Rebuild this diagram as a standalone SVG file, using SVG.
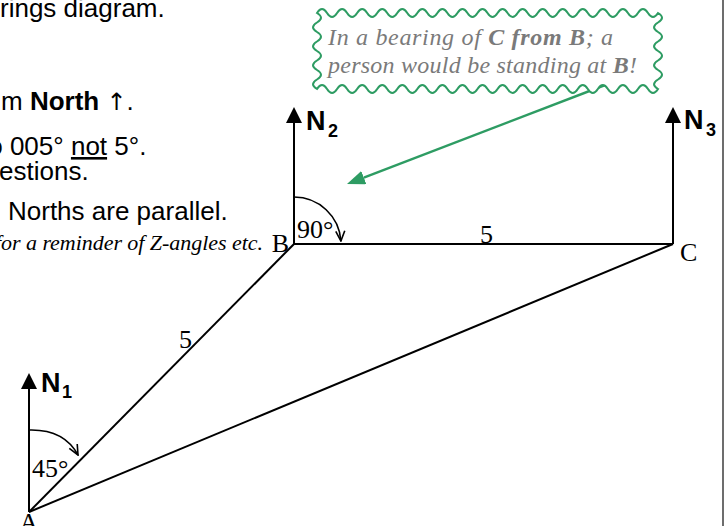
<svg xmlns="http://www.w3.org/2000/svg" width="728" height="526" viewBox="0 0 728 526">
<style>
.note{font-family:"Liberation Sans",Arial,sans-serif;font-size:26px;fill:#000}
.arr{font-family:"DejaVu Sans",sans-serif;font-size:24px}
.ser{font-family:"Liberation Serif","Times New Roman",serif;font-size:26px;fill:#000}
.nlab{font-family:"Liberation Sans",Arial,sans-serif;font-weight:bold;font-size:27px;fill:#000}
.nsub{font-family:"Liberation Sans",Arial,sans-serif;font-weight:bold;font-size:18px;fill:#000}
.ln{stroke:#000;stroke-width:2;fill:none}
.arc{stroke:#000;stroke-width:1.6;fill:none}
.call{font-family:"Liberation Serif","Times New Roman",serif;font-style:italic;font-size:24px;fill:#7a7a7a}
.remind{font-family:"Liberation Serif","Times New Roman",serif;font-style:italic;font-size:22px;fill:#000}
</style>
<defs>
<marker id="north" viewBox="0 0 16 16" markerWidth="16" markerHeight="16" refX="2" refY="8" orient="auto" markerUnits="userSpaceOnUse">
<path d="M0,0 L16,8 L0,16 Z" fill="#000"/>
</marker>
<marker id="vhead" viewBox="0 0 12 12" markerWidth="12" markerHeight="12" refX="11" refY="6" orient="auto" markerUnits="userSpaceOnUse">
<path d="M1,1.5 L11,6 L1,10.5" fill="none" stroke="#000" stroke-width="1.6"/>
</marker>
<marker id="garrow" viewBox="0 0 18 14" markerWidth="18" markerHeight="14" refX="0" refY="7" orient="auto" markerUnits="userSpaceOnUse">
<path d="M0,0 L18,7 L0,14 Z" fill="#2e9c63"/>
</marker>
</defs>
<rect x="0" y="0" width="728" height="526" fill="#fff"/>
<line x1="723" y1="0" x2="723" y2="526" stroke="#3c3c3c" stroke-width="1.5"/>

<g id="notes">
<text class="note" x="0" y="17">rings diagram.</text>
<text class="note" x="1" y="110">m <tspan font-weight="bold">North</tspan> <tspan class="arr">↑</tspan>.</text>
<text class="note" x="-19" y="155">to 005° <tspan text-decoration="underline">not</tspan> 5°.</text>
<text class="note" x="-1" y="180">estions.</text>
<text class="note" x="8" y="220">Norths are parallel.</text>
<text class="remind" x="-5" y="250" textLength="268" lengthAdjust="spacing">for a reminder of Z-angles etc.</text>
</g>

<g id="connectors">
<line class="ln" x1="29" y1="512" x2="294" y2="244"/>
<line class="ln" x1="294" y1="244" x2="673" y2="244"/>
<line class="ln" x1="29" y1="512" x2="673" y2="244"/>
<line class="ln" x1="29" y1="512" x2="29" y2="387" marker-end="url(#north)"/>
<line class="ln" x1="294" y1="244" x2="294" y2="121" marker-end="url(#north)"/>
<line class="ln" x1="673" y1="244" x2="673" y2="121" marker-end="url(#north)"/>
<path class="arc" d="M29,430 Q64,429 78,455" marker-end="url(#vhead)"/>
<path class="arc" d="M294,197 A47,47 0 0 1 340.9,241" marker-end="url(#vhead)"/>
<line x1="613" y1="82" x2="363.8" y2="177.6" stroke="#2e9c63" stroke-width="2.5" marker-end="url(#garrow)"/>
</g>

<g id="A">
<text class="ser" x="29" y="531" text-anchor="middle">A</text>
<text class="ser" x="32" y="477">45°</text>
</g>
<g id="N1">
<text class="nlab" x="41" y="392">N</text><text class="nsub" x="62" y="398">1</text>
</g>
<g id="B">
<text class="ser" x="289" y="252" text-anchor="end">B</text>
<text class="ser" x="297" y="238">90°</text>
</g>
<g id="N2">
<text class="nlab" x="306" y="130">N</text><text class="nsub" x="328" y="137">2</text>
</g>
<g id="C">
<text class="ser" x="680" y="261">C</text>
</g>
<g id="N3">
<text class="nlab" x="684" y="129">N</text><text class="nsub" x="706" y="136">3</text>
</g>
<g id="lengths">
<text class="ser" x="179" y="348">5</text>
<text class="ser" x="480" y="243">5</text>
</g>

<g id="callout">
<path d="M317,13 q5.015,-8 10.03,0 t10.03,0 t10.03,0 t10.03,0 t10.03,0 t10.03,0 t10.03,0 t10.03,0 t10.03,0 t10.03,0 t10.03,0 t10.03,0 t10.03,0 t10.03,0 t10.03,0 t10.03,0 t10.03,0 t10.03,0 t10.03,0 t10.03,0 t10.03,0 t10.03,0 t10.03,0 t10.03,0 t10.03,0 t10.03,0 t10.03,0 t10.03,0 t10.03,0 t10.03,0 t10.03,0 t10.03,0 t10.03,0 t10.03,0 q8,4.75 0,9.5 t0,9.5 t0,9.5 t0,9.5 t0,9.5 t0,9.5 t0,9.5 t0,9.5 q-5.015,8 -10.03,0 t-10.03,0 t-10.03,0 t-10.03,0 t-10.03,0 t-10.03,0 t-10.03,0 t-10.03,0 t-10.03,0 t-10.03,0 t-10.03,0 t-10.03,0 t-10.03,0 t-10.03,0 t-10.03,0 t-10.03,0 t-10.03,0 t-10.03,0 t-10.03,0 t-10.03,0 t-10.03,0 t-10.03,0 t-10.03,0 t-10.03,0 t-10.03,0 t-10.03,0 t-10.03,0 t-10.03,0 t-10.03,0 t-10.03,0 t-10.03,0 t-10.03,0 t-10.03,0 t-10.03,0 q-8,-4.75 0,-9.5 t0,-9.5 t0,-9.5 t0,-9.5 t0,-9.5 t0,-9.5 t0,-9.5 t0,-9.5 Z" fill="#fff" stroke="#2e9c63" stroke-width="2"/>
<text class="call" x="328" y="45" textLength="285" lengthAdjust="spacing">In a bearing of <tspan font-weight="bold">C from B</tspan>; a</text>
<text class="call" x="328" y="73" textLength="309" lengthAdjust="spacing">person would be standing at <tspan font-weight="bold">B</tspan>!</text>
</g>
</svg>
